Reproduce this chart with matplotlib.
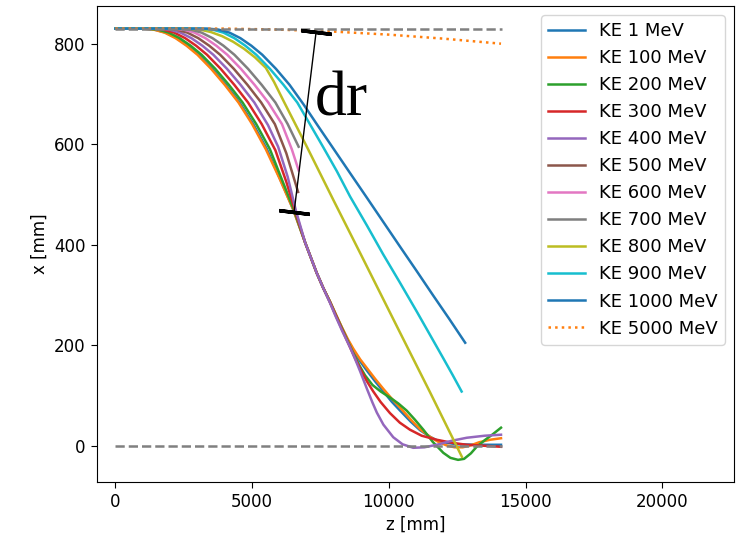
import matplotlib
matplotlib.use("Agg")
import matplotlib.pyplot as plt

plt.rcParams["font.size"] = 12
plt.rcParams["lines.linewidth"] = 1.8

# trajectories: (z [mm], x [mm])
z_1 = [0, 1040, 1440, 1840, 2240, 2640, 3040, 3540, 4040, 4540, 5040, 5540, 6030, 6520,
       6940, 7150, 7360, 7600, 7850, 8050, 8280, 8500, 8700, 8950, 9190, 9500, 9800, 10100,
       10410, 10800, 11140, 11500, 11750, 12100, 12500, 13300, 14100]
x_1 = [830, 830, 828, 822, 811, 796, 778, 750, 718, 683, 640, 590, 530, 468,
       404, 374, 344, 314, 286, 262, 235, 210, 190, 168, 150, 128, 108, 88,
       70, 48, 31, 18, 11, 6, 3, 2, 2]

z_100 = [0, 1000, 1400, 1800, 2200, 2600, 3000, 3500, 4000, 4500, 5000, 5500, 6000, 6500,
         6940, 7150, 7360, 7600, 7850, 8050, 8280, 8500, 8700, 8950, 9190, 9500, 9800, 10100,
         10410, 10800, 11140, 11500, 11800, 12100, 12400, 12700, 13000, 13300, 13700, 14100]
x_100 = [830, 830, 828, 822, 811, 796, 778, 750, 718, 683, 640, 590, 532, 470,
         404, 374, 344, 314, 287, 263, 236, 212, 193, 172, 155, 133, 113, 94,
         76, 52, 33, 18, 8, 1, -3, -3, 1, 7, 12, 15]

z_200 = [0, 1150, 1550, 1950, 2350, 2750, 3150, 3650, 4150, 4650, 5150, 5650, 6100, 6550,
         6940, 7150, 7360, 7600, 7850, 8050, 8280, 8500, 8700, 8920, 9130, 9400, 9700, 10040,
         10350, 10650, 10950, 11260, 11600, 11990, 12250, 12530, 12750, 13000, 13210, 13500,
         13800, 14100]
x_200 = [830, 830, 828, 822, 811, 796, 778, 750, 718, 683, 640, 590, 528, 466,
         404, 374, 344, 314, 286, 261, 234, 208, 184, 160, 140, 121, 108, 96,
         84, 70, 52, 32, 8, -14, -24, -28, -26, -15, -2, 11,
         23, 36]

z_300 = [0, 1350, 1750, 2150, 2550, 2950, 3350, 3850, 4350, 4850, 5350, 5850, 6250, 6580,
         6940, 7150, 7360, 7600, 7850, 8050, 8280, 8580, 8800, 9000, 9200, 9430, 9700, 10040,
         10400, 10770, 11200, 11750, 12300, 12850, 13500, 14100]
x_300 = [830, 830, 828, 822, 811, 796, 778, 750, 718, 683, 640, 588, 525, 466,
         404, 374, 344, 314, 285, 260, 232, 196, 170, 148, 128, 108, 87, 65,
         46, 32, 20, 12, 6, 2, 0, -2]

z_400 = [0, 1580, 1980, 2380, 2780, 3180, 3580, 4080, 4580, 5080, 5580, 5950, 6300, 6600,
         6940, 7150, 7360, 7600, 7850, 8050, 8280, 8580, 8800, 8950, 9200, 9400, 9560, 9800,
         10160, 10500, 10890, 11300, 11750, 12300, 12850, 13500, 14100]
x_400 = [830, 830, 828, 822, 811, 796, 778, 750, 718, 683, 638, 595, 535, 468,
         404, 374, 344, 314, 284, 258, 230, 196, 168, 148, 113, 86, 66, 42,
         17, 3, -4, -3, 2, 10, 16, 20, 22]

z_500 = [0, 1830, 2230, 2630, 3030, 3430, 3830, 4330, 4830, 5330, 5830, 6250, 6680]
x_500 = [830, 830, 828, 822, 811, 796, 778, 750, 718, 683, 640, 582, 505]

z_600 = [0, 2090, 2490, 2890, 3290, 3690, 4090, 4590, 5090, 5590, 6090, 6450, 6700]
x_600 = [830, 830, 828, 822, 811, 796, 778, 750, 718, 683, 640, 590, 548]

z_700 = [0, 2350, 2750, 3150, 3550, 3950, 4350, 4850, 5350, 5850, 6300, 6700]
x_700 = [830, 830, 828, 822, 811, 796, 778, 750, 718, 683, 640, 595]

z_800 = [0, 2700, 3100, 3500, 3900, 4300, 4700, 5100, 5500, 5800, 6130, 7000, 7970, 9000,
         10400, 11500, 12670]
x_800 = [830, 830, 828, 823, 815, 804, 790, 773, 752, 724, 688, 595, 489, 378,
         226, 107, -22]

z_900 = [0, 3150, 3550, 3950, 4350, 4750, 5150, 5650, 6150, 6650, 7100, 7600, 8100, 8580,
         9200, 9790, 10400, 11020, 11500, 11990, 12330, 12660]
x_900 = [830, 830, 828, 822, 811, 796, 778, 750, 718, 683, 641, 594, 546, 496,
         438, 381, 325, 267, 221, 174, 141, 108]

z_1000 = [0, 3370, 3770, 4170, 4570, 4970, 5370, 5870, 6370, 6870, 7400, 8000, 8600,
          9190, 9800, 10410, 11000, 11620, 12200, 12790]
x_1000 = [830, 830, 828, 822, 811, 796, 778, 750, 718, 680, 637, 589, 541,
          494, 445, 396, 349, 299, 253, 205]

z_5000 = [0, 4000, 6000, 8000, 10000, 12000, 14100]
x_5000 = [830, 830, 828, 824, 818, 810, 800]

series = [
    ("KE 1 MeV", z_1, x_1),
    ("KE 100 MeV", z_100, x_100),
    ("KE 200 MeV", z_200, x_200),
    ("KE 300 MeV", z_300, x_300),
    ("KE 400 MeV", z_400, x_400),
    ("KE 500 MeV", z_500, x_500),
    ("KE 600 MeV", z_600, x_600),
    ("KE 700 MeV", z_700, x_700),
    ("KE 800 MeV", z_800, x_800),
    ("KE 900 MeV", z_900, x_900),
    ("KE 1000 MeV", z_1000, x_1000),
]

# reference levels and the dr marker
z_ref = [0, 14130]
x_top = 830
x_axis = 0
dr_low = (6534, 465)
dr_high = (7338, 823)

fig = plt.figure(figsize=(7.38, 5.39), dpi=100)
ax = fig.add_axes([0.1308, 0.1058, 0.8638, 0.8831])

for label, z, x in series:
    ax.plot(z, x, label=label)
ax.plot(z_5000, x_5000, ":", color="C1", label="KE 5000 MeV")

ax.plot(z_ref, [x_top, x_top], "--", color="gray")
ax.plot(z_ref, [x_axis, x_axis], "--", color="gray")

ax.plot([dr_low[0], dr_high[0]], [dr_low[1], dr_high[1]], color="black", lw=1)
for p in (dr_low, dr_high):
    ax.plot([p[0]], [p[1]], marker=(2, 2, 83), ms=22, mew=2.5, color="black")
ax.text(7300, 658, "dr", family="Liberation Serif", fontsize=46)

ax.set_xlim(-690, 22620)
ax.set_ylim(-72, 875)
ax.set_xlabel("z [mm]")
ax.set_ylabel("x [mm]")
ax.tick_params(length=4.2)
ax.legend(loc="upper right", fontsize=13, labelspacing=0.5, handlelength=2.0)

fig.savefig("out.png", dpi=100)
